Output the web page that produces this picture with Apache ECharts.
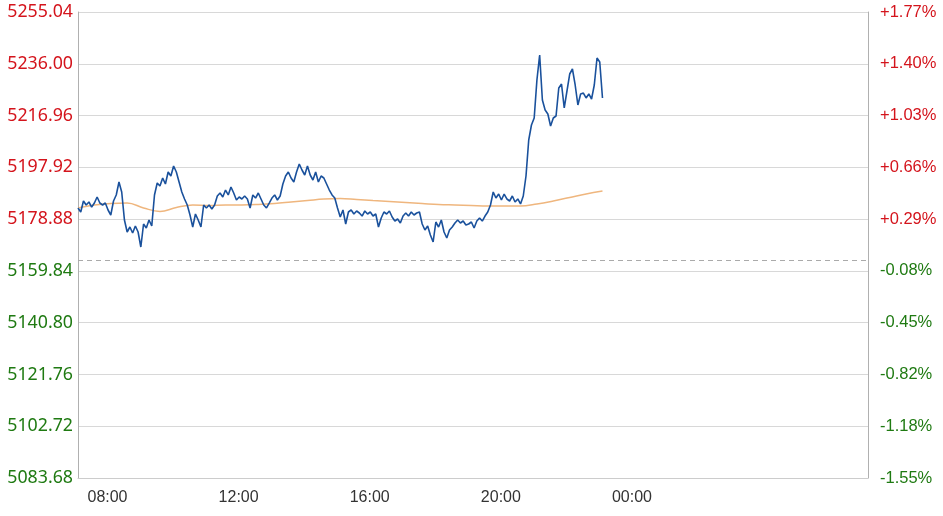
<!DOCTYPE html>
<html>
<head>
<meta charset="utf-8">
<script src="https://cdn.jsdelivr.net/npm/echarts@6/dist/echarts.min.js"></script>
<style>html,body{margin:0;padding:0;background:#fff}#c{width:943px;height:516px}</style>
</head>
<body>
<div id="c"></div>
<script>
// time in minutes from midnight; session starts 07:06, 5-minute samples
var startMinute = 426;
var stepMinutes = 5;
var axisMaxMinute = 1872;
var basePrice = 5163.7;
var priceMin = 5083.68, priceMax = 5255.04, priceInterval = 19.04;
var xLabelMinutes = [480, 720, 960, 1200, 1440];
var rightTickLabels = ['-1.55%','-1.18%','-0.82%','-0.45%','-0.08%','+0.29%','+0.66%','+1.03%','+1.40%','+1.77%'];

var prices = [
5182.97,5181.49,5185.54,5184.07,5185.17,5183.33,5184.80,5187.01,5184.80,5184.07,
5184.80,5182.23,5180.39,5185.54,5187.75,5192.53,5188.85,5178.55,5174.14,5175.98,
5173.77,5176.35,5174.14,5168.62,5177.08,5175.61,5178.55,5176.35,5187.75,5192.16,
5191.06,5194.00,5191.79,5196.20,5194.73,5198.41,5196.20,5192.53,5188.85,5186.28,
5184.07,5180.39,5175.98,5180.76,5178.55,5175.98,5184.07,5182.97,5184.07,5182.60,
5184.07,5187.38,5188.48,5187.01,5189.58,5187.75,5190.69,5188.48,5185.91,5187.01,
5186.28,5187.38,5186.28,5182.97,5187.75,5186.64,5188.48,5186.28,5184.07,5182.97,
5184.80,5186.64,5187.75,5185.91,5187.38,5191.79,5194.73,5196.20,5194.00,5192.53,
5196.20,5199.15,5196.94,5195.10,5198.41,5195.10,5193.26,5196.20,5192.53,5194.73,
5194.00,5191.79,5189.58,5187.75,5186.64,5182.97,5179.66,5182.23,5177.08,5181.49,
5182.23,5180.76,5181.86,5181.13,5180.02,5181.86,5180.76,5181.49,5180.02,5180.76,
5175.98,5179.29,5181.49,5180.76,5181.86,5179.66,5178.18,5178.92,5177.45,5180.02,
5181.13,5180.02,5181.49,5180.39,5181.13,5181.49,5177.08,5174.88,5176.35,5173.04,
5170.46,5177.82,5175.98,5178.55,5174.14,5171.93,5174.88,5175.98,5177.45,5178.55,
5177.45,5178.18,5176.71,5177.08,5177.82,5175.61,5178.18,5179.29,5178.18,5180.02,
5181.49,5184.07,5188.85,5186.64,5188.11,5185.91,5188.11,5186.28,5185.54,5187.38,
5185.17,5186.28,5184.44,5187.38,5194.73,5207.97,5213.49,5216.06,5230.04,5239.23,
5222.68,5219.00,5217.53,5213.12,5216.06,5216.80,5227.09,5228.56,5219.74,5225.99,
5232.24,5234.08,5228.20,5220.84,5224.89,5225.25,5223.42,5224.89,5223.05,5228.20,
5238.13,5236.65,5223.42
];
// average line, 30-minute samples from the same start
var avgStepMinutes = 30;
var avgPrices = [
5182.97,5184.07,5184.62,5184.80,5182.97,5181.68,5183.15,5184.07,5183.88,5184.07,
5184.07,5184.25,5184.62,5185.17,5185.72,5186.28,5186.46,5186.09,5185.72,5185.36,
5184.99,5184.62,5184.25,5184.07,5183.88,5183.70,5183.70,5183.70,5184.44,5185.54,
5186.83,5188.11,5189.22
];

var priceData = prices.map(function(v,i){return [startMinute + i*stepMinutes, v];});
var avgData = avgPrices.map(function(v,i){return [startMinute + i*avgStepMinutes, v];});

var RED = '#d4141c', GREEN = '#1f7a12';
function hhmm(m){
  m = ((m % 1440) + 1440) % 1440;
  var h = Math.floor(m/60), mm = m % 60;
  return (h<10?'0':'')+h+':'+(mm<10?'0':'')+mm;
}

var chart = echarts.init(document.getElementById('c'), null, {renderer:'canvas'});
chart.setOption({
  animation: false,
  grid: {left: 78, right: 75, top: 12, bottom: 38, containLabel: false},
  xAxis: {
    type: 'value', min: startMinute, max: axisMaxMinute,
    axisLine: {show: true, lineStyle: {color: '#cccccc'}},
    axisTick: {show: false},
    splitLine: {show: false},
    axisLabel: {
      customValues: xLabelMinutes,
      formatter: function(v){return hhmm(v);},
      color: '#333', fontSize: 16, fontFamily: 'Liberation Sans', margin: 12
    }
  },
  yAxis: [{
    type: 'value', min: priceMin, max: priceMax, interval: priceInterval,
    position: 'left',
    axisLine: {show: true, lineStyle: {color: '#b0b0b0'}},
    axisTick: {show: false},
    splitLine: {show: true, lineStyle: {color: '#d8d8d8'}},
    axisLabel: {
      formatter: function(v){return v.toFixed(2);},
      color: function(v){return v >= basePrice ? RED : GREEN;},
      fontSize: 17.8, fontFamily: 'Noto Sans', margin: 5
    }
  },{
    type: 'value', min: priceMin, max: priceMax, interval: priceInterval,
    position: 'right',
    axisLine: {show: true, lineStyle: {color: '#b0b0b0'}},
    axisTick: {show: false},
    splitLine: {show: false},
    axisLabel: {
      formatter: function(v, i){return rightTickLabels[i];},
      color: function(v){return v >= basePrice ? RED : GREEN;},
      fontSize: 16.5, fontFamily: 'Liberation Sans', margin: 12
    }
  }],
  series: [{
    type: 'line', data: avgData, yAxisIndex: 0, smooth: 0.4, symbol: 'none',
    lineStyle: {color: '#efb67e', width: 1.5}, z: 2
  },{
    type: 'line', data: priceData, yAxisIndex: 0, symbol: 'none',
    lineStyle: {color: '#1a519c', width: 1.6}, z: 3,
    markLine: {
      silent: true, symbol: 'none', label: {show: false},
      lineStyle: {color: '#aaaaaa', type: [5, 4], width: 1},
      data: [{yAxis: basePrice}]
    }
  }]
});
</script>
</body>
</html>
